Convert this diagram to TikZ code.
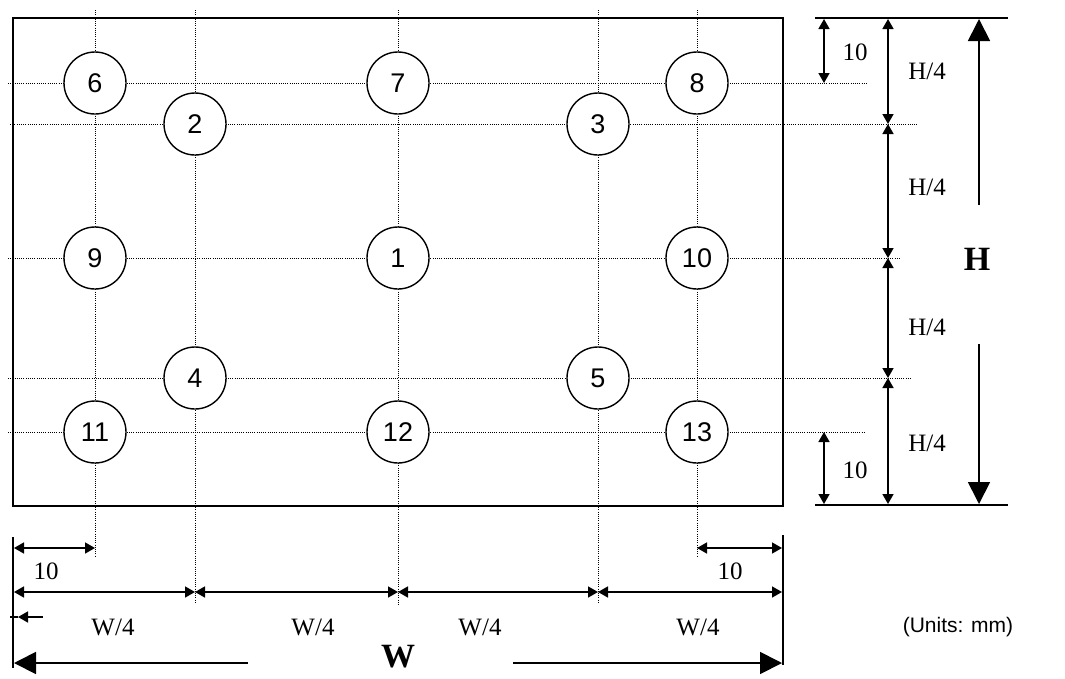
\documentclass[tikz,border=0pt]{standalone}
\usepackage{fontspec}
\setmainfont{Liberation Serif}
\newfontfamily\sansf{Liberation Sans}
\usetikzlibrary{arrows.meta}
\begin{document}
\begin{tikzpicture}[x=1pt,y=-1pt,
  grid/.style={line width=1pt,dash pattern=on 1pt off 1.2pt},
  hole/.style={circle,draw,line width=1.4pt,fill=white,minimum size=62pt,inner sep=0pt,font=\sansf\fontsize{27}{27}\selectfont},
  dim/.style={line width=1.6pt,{Triangle[length=10pt,width=11pt]}-{Triangle[length=10pt,width=11pt]}},
  bigarr/.style={line width=1.8pt,-{Triangle[length=22pt,width=22pt]}},
  smallarr/.style={line width=1.6pt,-{Triangle[length=10pt,width=11pt]}},
  edge/.style={line width=2pt},
  lab/.style={font=\fontsize{25}{25}\selectfont,inner sep=0pt},
  biglab/.style={font=\bfseries\fontsize{34}{34}\selectfont,inner sep=0pt}]
\useasboundingbox (0,0) rectangle (1065,678);
% plate
\draw[line width=2pt] (13,18) rectangle (783,506);
% grid lines
\coordinate (v1t) at (95,10);  \coordinate (v1b) at (95,556);
\coordinate (v2t) at (195,10); \coordinate (v2b) at (195,602);
\coordinate (v3t) at (398,10); \coordinate (v3b) at (398,605);
\coordinate (v4t) at (598,10); \coordinate (v4b) at (598,602);
\coordinate (v5t) at (697,10); \coordinate (v5b) at (697,556);
\coordinate (h1l) at (8,83);   \coordinate (h1r) at (868,83);
\coordinate (h2l) at (10,124); \coordinate (h2r) at (918,124);
\coordinate (h3l) at (8,258);  \coordinate (h3r) at (900,258);
\coordinate (h4l) at (8,378);  \coordinate (h4r) at (912,378);
\coordinate (h5l) at (8,432);  \coordinate (h5r) at (866,432);
\foreach \i in {1,...,5} {
  \draw[grid] (v\i t) -- (v\i b);
  \draw[grid] (h\i l) -- (h\i r);
}
% holes
\node[hole] (c6) at (95,83) {6};
\node[hole] (c7) at (398,83) {7};
\node[hole] (c8) at (697,83) {8};
\node[hole] (c2) at (195,124) {2};
\node[hole] (c3) at (598,124) {3};
\node[hole] (c9) at (95,258) {9};
\node[hole] (c1) at (398,258) {1};
\node[hole] (c10) at (697,258) {10};
\node[hole] (c4) at (195,378) {4};
\node[hole] (c5) at (598,378) {5};
\node[hole] (c11) at (95,432) {11};
\node[hole] (c12) at (398,432) {12};
\node[hole] (c13) at (697,432) {13};
% right dimensions
\coordinate (rt1) at (815,18); \coordinate (rt2) at (1008,18);
\coordinate (rb1) at (815,505); \coordinate (rb2) at (1008,505);
\draw[edge] (rt1) -- (rt2);
\draw[edge] (rb1) -- (rb2);
\coordinate (a0) at (824,19); \coordinate (a1) at (824,83);
\draw[dim] (a0) -- (a1);
\node[lab] (l10a) at (855,52) {10};
\coordinate (b0) at (888,19); \coordinate (b1) at (888,124);
\coordinate (b2) at (888,258); \coordinate (b3) at (888,378);
\coordinate (b4) at (888,504);
\draw[dim] (b0) -- (b1);
\draw[dim] (b1) -- (b2);
\draw[dim] (b2) -- (b3);
\draw[dim] (b3) -- (b4);
\node[lab] (lh1) at (927,71) {H/4};
\node[lab] (lh2) at (927,187) {H/4};
\node[lab] (lh3) at (927,327) {H/4};
\node[lab] (lh4) at (927,443) {H/4};
\coordinate (a2) at (824,432); \coordinate (a3) at (824,504);
\draw[dim] (a2) -- (a3);
\node[lab] (l10b) at (855,470) {10};
\coordinate (hu) at (979,205); \coordinate (hut) at (979,19);
\coordinate (hd) at (979,344); \coordinate (hdt) at (979,504);
\draw[bigarr] (hu) -- (hut);
\draw[bigarr] (hd) -- (hdt);
\node[biglab] (lH) at (977,259) {H};
% bottom dimensions
\coordinate (lv1) at (13,537); \coordinate (lv2) at (13,668);
\coordinate (rv1) at (783,535); \coordinate (rv2) at (783,665);
\draw[edge] (lv1) -- (lv2);
\draw[edge] (rv1) -- (rv2);
\coordinate (d0) at (14,548); \coordinate (d1) at (95,548);
\draw[dim] (d0) -- (d1);
\node[lab] (l10c) at (46,571) {10};
\coordinate (d2) at (697,548); \coordinate (d3) at (782,548);
\draw[dim] (d2) -- (d3);
\node[lab] (l10d) at (730,571) {10};
\coordinate (w0) at (14,592); \coordinate (w1) at (195,592);
\coordinate (w2) at (398,592); \coordinate (w3) at (598,592);
\coordinate (w4) at (782,592);
\draw[dim] (w0) -- (w1);
\draw[dim] (w1) -- (w2);
\draw[dim] (w2) -- (w3);
\draw[dim] (w3) -- (w4);
\node[lab] (lw1) at (113,627) {W/4};
\node[lab] (lw2) at (313,627) {W/4};
\node[lab] (lw3) at (480,627) {W/4};
\node[lab] (lw4) at (698,627) {W/4};
\coordinate (s0) at (43,617); \coordinate (s1) at (18,617); \coordinate (s2) at (10,617);
\draw[line width=1.6pt] (s1) -- (s2);
\draw[smallarr] (s0) -- (s1);
\coordinate (wl) at (248,663); \coordinate (wlt) at (14,663);
\coordinate (wr) at (513,663); \coordinate (wrt) at (782,663);
\draw[bigarr] (wl) -- (wlt);
\draw[bigarr] (wr) -- (wrt);
\node[biglab] (lW) at (398,657) {W};
\node[font=\sansf\fontsize{21}{21}\selectfont,inner sep=0pt] (units) at (958,627) {(Units: mm)};
\end{tikzpicture}
\end{document}
